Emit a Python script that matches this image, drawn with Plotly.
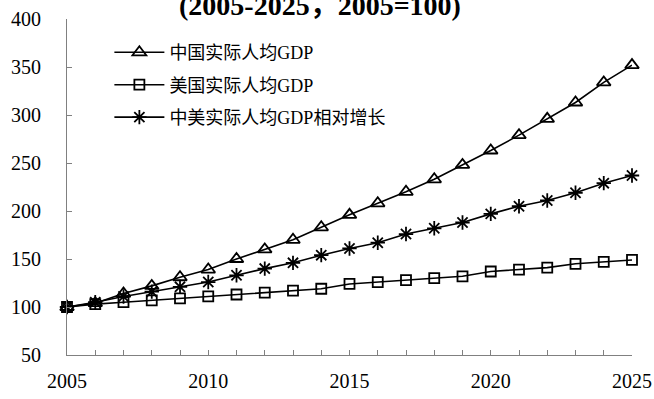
import plotly.graph_objects as go

# Years and index values (2005 = 100)
years = list(range(2005, 2026))
china_gdp_pc = [100, 104, 114, 122, 131, 139, 150, 160, 170, 183, 196,
                208, 220, 233, 248, 263, 279, 296, 313, 334, 352]
us_gdp_pc = [100, 103, 105, 107, 109, 111, 113, 115, 117, 119, 124,
             126, 128, 130, 132, 137, 139, 141, 145, 147, 149]
relative_growth = [100, 105, 111, 116, 121, 126, 133, 140, 146, 154, 161,
                   167, 176, 182, 188, 197, 205, 211, 219, 229, 237]

series_names = ["中国实际人均GDP", "美国实际人均GDP", "中美实际人均GDP相对增长"]
x_tick_vals = [2005, 2010, 2015, 2020, 2025]
y_tick_vals = [50, 100, 150, 200, 250, 300, 350, 400]
title_text = "(2005-2025，2005=100)"

FONT = "Liberation Serif, Times New Roman, Noto Sans CJK SC, serif"
AXIS_GRAY = "#808080"

styles = [
    dict(symbol="triangle-up-open", size=12),
    dict(symbol="square-open", size=10),
    dict(symbol="asterisk-open", size=12),
]

fig = go.Figure()
for i, (name, vals) in enumerate(zip(series_names,
                                     [china_gdp_pc, us_gdp_pc, relative_growth])):
    fig.add_trace(go.Scatter(
        x=years, y=vals, name=name, mode="lines+markers",
        legendgroup=f"g{i}",
        line=dict(color="black", width=1.6),
        marker=dict(symbol=styles[i]["symbol"], size=styles[i]["size"],
                    color="black", line=dict(color="black", width=1.8)),
        cliponaxis=False,
    ))

fig.update_layout(
    width=654, height=399,
    margin=dict(l=67, r=22, t=19, b=44, autoexpand=False),
    paper_bgcolor="white", plot_bgcolor="white",
    font=dict(family=FONT, color="black", size=20),
    showlegend=True,
    legend=dict(
        x=0.075, y=0.955, xanchor="left", yanchor="top",
        bgcolor="rgba(0,0,0,0)", borderwidth=0,
        font=dict(family=FONT, size=18, color="black"),
        traceorder="grouped", tracegroupgap=6,
        itemwidth=50,
    ),
    xaxis=dict(
        range=[2005, 2025], tickvals=x_tick_vals, automargin=False,
        showline=True, linecolor=AXIS_GRAY, linewidth=1,
        ticks="inside", ticklen=5, tickcolor=AXIS_GRAY,
        minor=dict(dtick=1, ticks="inside", ticklen=5, tickcolor=AXIS_GRAY),
        showgrid=False, zeroline=False,
        tickfont=dict(size=20), ticklabelstandoff=8,
    ),
    yaxis=dict(
        range=[50, 400], tickvals=y_tick_vals, automargin=False,
        showline=True, linecolor=AXIS_GRAY, linewidth=1,
        ticks="inside", ticklen=5, tickcolor=AXIS_GRAY,
        showgrid=False, zeroline=False,
        tickfont=dict(size=20), ticklabelstandoff=21,
    ),
    annotations=[dict(
        text=f"<b>{title_text}</b>", xref="paper", yref="paper",
        x=0.447, y=1.04, xanchor="center", yanchor="middle",
        showarrow=False, font=dict(family=FONT, size=28, color="black"),
    )],
)

fig.write_html("out.html")
